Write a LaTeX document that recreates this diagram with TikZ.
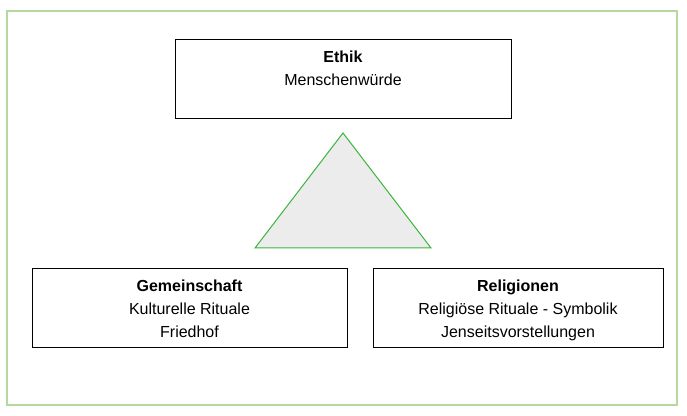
\documentclass[tikz,border=0pt]{standalone}
\usepackage{fontspec}
\setmainfont{Liberation Sans}
\usetikzlibrary{positioning}
\definecolor{framegreen}{RGB}{181,215,160}
\definecolor{trigreen}{RGB}{60,180,60}
\definecolor{trigray}{RGB}{236,236,236}
\begin{document}
\begin{tikzpicture}[x = 0.75pt, y = -0.75pt,
    box/.style = {draw, line width = 0.75pt, minimum height = 59.25pt, inner sep = 0pt},
    boxtext/.style = {align = center, inner sep = 0pt, font = \fontsize{12}{17.25}\selectfont, below = 8.25pt of #1}]
                \useasboundingbox (0, 0) rectangle (687, 416);
                \draw[framegreen, line width = 1.5pt] (7, 11) rectangle (677, 405);
                \node[box, minimum width = 252pt] (ethik) at (343, 79.5) {};
                \node[boxtext = ethik.north] (ethiktext) {\textbf{Ethik}\\Menschenwürde};
                \node[box, minimum width = 236.25pt] (gemeinschaft) at (189.5, 308.5) {};
                \node[boxtext = gemeinschaft.north] (gemeinschafttext) {\textbf{Gemeinschaft}\\Kulturelle Rituale\\Friedhof};
                \node[box, minimum width = 217.5pt] (religionen) at (518, 308.5) {};
                \node[boxtext = religionen.north] (religionentext) {\textbf{Religionen}\\Religiöse Rituale - Symbolik\\Jenseitsvorstellungen};
                \draw[trigreen, fill = trigray, line width = 0.75pt] (343, 133) -- (431, 248) -- (255, 248) -- cycle;
            \end{tikzpicture}
\end{document}
